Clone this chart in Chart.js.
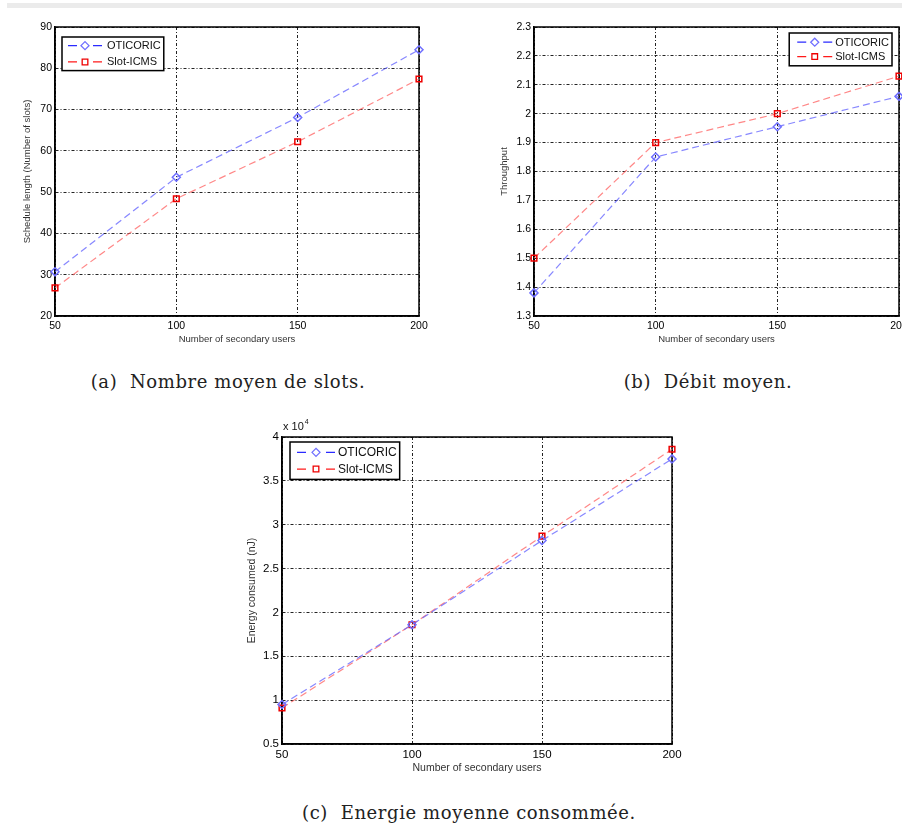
<!DOCTYPE html>
<html>
<head>
<meta charset="utf-8">
<script src="https://cdn.jsdelivr.net/npm/chart.js@4.4.0/dist/chart.umd.min.js"></script>
<style>
    html, body { margin: 0; padding: 0; background: #fff; width: 902px; height: 827px; overflow: hidden; position: relative; }
    .bande { position: absolute; left: 7px; top: 3px; width: 895px; height: 5px; background: #ebebeb; }
    canvas { position: absolute; }
    .legende { position: absolute; font-family: "DejaVu Serif", "Liberation Serif", serif; font-size: 18px; letter-spacing: 0.6px; color: #222; white-space: pre; transform: translateX(-50%); line-height: 22px; }
</style>
</head>
<body>
<div class="bande"></div>

<canvas id="canvasSlots" width="440" height="328" style="left:0px; top:17px;"></canvas>
<canvas id="canvasDebit" width="460" height="328" style="left:460px; top:17px;"></canvas>
<canvas id="canvasEnergie" width="460" height="357" style="left:230px; top:417px;"></canvas>

<div class="legende" style="left:228px; top:371px;">(a)  Nombre moyen de slots.</div>
<div class="legende" style="left:708px; top:371px;">(b)  Débit moyen.</div>
<div class="legende" style="left:469px; top:802px;">(c)  Energie moyenne consommée.</div>

<script>
// données
const nbUtilisateurs = [50, 100, 150, 200]
const nomsSeries = ["OTICORIC", "Slot-ICMS"]

const slotsOticoric = [30.7, 53.6, 68.1, 84.5]
const slotsSlotIcms = [26.8, 48.4, 62.2, 77.4]

const debitOticoric = [1.38, 1.85, 1.955, 2.06]
const debitSlotIcms = [1.5, 1.9, 2.0, 2.13]

// énergie en nJ (affichée en x 10^4)
const energieOticoric = [9500, 18600, 28200, 37500]
const energieSlotIcms = [9100, 18600, 28700, 38600]

const policeSans = '"Liberation Sans", Arial, sans-serif'

// cadre complet autour de la zone du graphe (box on)
const cadreAxes = {
    id: 'cadreAxes',
    beforeDatasetsDraw(chart) {
        let a = chart.chartArea
        let ctx = chart.ctx
        ctx.save()
        ctx.strokeStyle = '#000'
        ctx.lineWidth = 1.5
        ctx.strokeRect(a.left, a.top, a.right - a.left, a.bottom - a.top)
        ctx.restore()
    }
}

// légende façon matlab, encadrée dans la zone du graphe
const legendeEncadree = {
    id: 'legendeEncadree',
    afterDatasetsDraw(chart, args, opts) {
        if (!opts || !opts.taille) return
        let ctx = chart.ctx
        let a = chart.chartArea
        let datasets = chart.data.datasets
        ctx.save()
        ctx.font = opts.taille + 'px ' + policeSans
        let largeurTexte = Math.max(...datasets.map(d => ctx.measureText(d.label).width))
        let largeur = opts.marge + opts.echantillon + opts.espace + largeurTexte + 3
        let hauteur = opts.ligne * datasets.length + opts.margeV * 2
        let x = opts.cote == 'droite' ? a.right - opts.dx - largeur : a.left + opts.dx
        let y = a.top + opts.dy
        ctx.fillStyle = '#fff'
        ctx.fillRect(x, y, largeur, hauteur)
        ctx.strokeStyle = '#000'
        ctx.lineWidth = 1.5
        ctx.strokeRect(x, y, largeur, hauteur)
        datasets.forEach((d, i) => {
            let yl = y + opts.margeV + opts.ligne * (i + 0.5)
            let x0 = x + opts.marge
            let x1 = x0 + opts.echantillon
            ctx.strokeStyle = d.couleurLegende
            ctx.lineWidth = 1.3
            ctx.beginPath()
            ctx.moveTo(x0, yl); ctx.lineTo(x0 + 9, yl)
            ctx.moveTo(x1 - 9, yl); ctx.lineTo(x1, yl)
            ctx.stroke()
            ctx.strokeStyle = d.pointBorderColor
            ctx.fillStyle = 'rgba(0,0,0,0)'
            Chart.helpers.drawPoint(ctx, {
                pointStyle: d.pointStyle,
                radius: d.pointRadius,
                borderWidth: d.pointBorderWidth,
                rotation: 0
            }, (x0 + x1) / 2, yl)
            ctx.fillStyle = '#111'
            ctx.textAlign = 'left'
            ctx.textBaseline = 'middle'
            ctx.fillText(d.label, x1 + opts.espace, yl + 0.5)
        })
        ctx.restore()
    }
}

// facteur "x 10^4" au dessus de l'axe y
const facteurEchelle = {
    id: 'facteurEchelle',
    afterDraw(chart, args, opts) {
        if (!opts || !opts.exposant) return
        let ctx = chart.ctx
        let a = chart.chartArea
        ctx.save()
        ctx.fillStyle = '#111'
        ctx.textBaseline = 'middle'
        ctx.textAlign = 'left'
        ctx.font = '11px ' + policeSans
        ctx.fillText('x 10', a.left + 1, a.top - 10)
        let l = ctx.measureText('x 10').width
        ctx.font = '7px ' + policeSans
        ctx.fillText(opts.exposant, a.left + 2 + l, a.top - 15)
        ctx.restore()
    }
}

function creerSerie(nom, valeurs, estOticoric) {
    return {
        label: nom,
        data: valeurs.map((v, i) => ({x: nbUtilisateurs[i], y: v})),
        borderColor: estOticoric ? 'rgba(95,95,255,0.75)' : 'rgba(255,95,95,0.75)',
        couleurLegende: estOticoric ? '#2b2bff' : '#ff1a1a',
        borderWidth: 1.2,
        borderDash: [7, 4],
        pointStyle: estOticoric ? 'rectRot' : 'rect',
        pointRadius: 4,
        pointBorderWidth: 1.5,
        pointBorderColor: estOticoric ? '#6f6fff' : '#ee0000',
        pointBackgroundColor: 'rgba(0,0,0,0)',
        tension: 0,
        clip: false
    }
}

function creerGraphique(idCanvas, valeursOti, valeursSlot, reglages) {
    let canvas = document.getElementById(idCanvas)
    new Chart(canvas, {
        type: 'line',
        data: {
            datasets: [
                creerSerie(nomsSeries[0], valeursOti, true),
                creerSerie(nomsSeries[1], valeursSlot, false)
            ]
        },
        options: {
            responsive: false,
            animation: false,
            layout: { padding: reglages.padding },
            scales: {
                x: {
                    type: 'linear',
                    min: 50,
                    max: 200,
                    afterFit: scale => { scale.height = reglages.hauteurX },
                    ticks: {
                        stepSize: 50,
                        padding: 4,
                        maxRotation: 0,
                        color: '#000',
                        font: { family: policeSans, size: reglages.tailleTicks }
                    },
                    grid: { color: '#222', lineWidth: 1, drawTicks: false },
                    border: { display: true, color: '#000', width: 1.5, dash: [3, 2, 1, 2] },
                    title: {
                        display: true,
                        text: 'Number of secondary users',
                        color: '#333',
                        padding: 0,
                        font: { family: policeSans, size: reglages.tailleTitre, lineHeight: 1.1 }
                    }
                },
                y: {
                    type: 'linear',
                    min: reglages.yMin,
                    max: reglages.yMax,
                    afterFit: scale => { scale.width = reglages.largeurY },
                    ticks: {
                        stepSize: reglages.yPas,
                        padding: 3,
                        color: '#000',
                        font: { family: policeSans, size: reglages.tailleTicks },
                        callback: reglages.formatY
                    },
                    grid: { color: '#222', lineWidth: 1, drawTicks: false },
                    border: { display: true, color: '#000', width: 1.5, dash: [3, 2, 1, 2] },
                    title: {
                        display: true,
                        text: reglages.titreY,
                        color: '#333',
                        padding: { top: reglages.decalTitreY, bottom: 0 },
                        font: { family: policeSans, size: reglages.tailleTitre, lineHeight: 1.1 }
                    }
                }
            },
            plugins: {
                legend: { display: false },
                tooltip: { enabled: false },
                legendeEncadree: reglages.legende,
                facteurEchelle: { exposant: reglages.exposant }
            }
        },
        plugins: [cadreAxes, legendeEncadree, facteurEchelle]
    })
}

// (a) nombre moyen de slots
creerGraphique("canvasSlots", slotsOticoric, slotsSlotIcms, {
    padding: { top: 10, right: 21, left: 0, bottom: 0 },
    hauteurX: 29,
    largeurY: 55,
    yMin: 20, yMax: 90, yPas: 10,
    formatY: v => String(v),
    titreY: 'Schedule length (Number of slots)',
    decalTitreY: 22,
    tailleTicks: 10.5,
    tailleTitre: 9.5,
    legende: { cote: 'gauche', dx: 7, dy: 10, taille: 11, ligne: 16.3, margeV: 0.5, marge: 6, echantillon: 34, espace: 5 }
})

// (b) débit moyen
creerGraphique("canvasDebit", debitOticoric, debitSlotIcms, {
    padding: { top: 10, right: 21, left: 0, bottom: 0 },
    hauteurX: 29,
    largeurY: 74,
    yMin: 1.3, yMax: 2.3, yPas: 0.1,
    formatY: v => String(Math.round(v * 10) / 10),
    titreY: 'Throughput',
    decalTitreY: 39,
    tailleTicks: 10.5,
    tailleTitre: 9.5,
    legende: { cote: 'droite', dx: 7, dy: 6, taille: 11, ligne: 14.4, margeV: 2, marge: 8, echantillon: 35, espace: 3 }
})

// (c) énergie moyenne consommée
creerGraphique("canvasEnergie", energieOticoric, energieSlotIcms, {
    padding: { top: 20, right: 18, left: 0, bottom: 0 },
    hauteurX: 30,
    largeurY: 52,
    yMin: 5000, yMax: 40000, yPas: 5000,
    formatY: v => String(Math.round(v / 1000) / 10),
    titreY: 'Energy consumed (nJ)',
    decalTitreY: 16,
    tailleTicks: 11.5,
    tailleTitre: 10.5,
    exposant: '4',
    legende: { cote: 'gauche', dx: 8, dy: 5, taille: 12, ligne: 16.7, margeV: 2, marge: 7, echantillon: 38, espace: 3 }
})
</script>
</body>
</html>
